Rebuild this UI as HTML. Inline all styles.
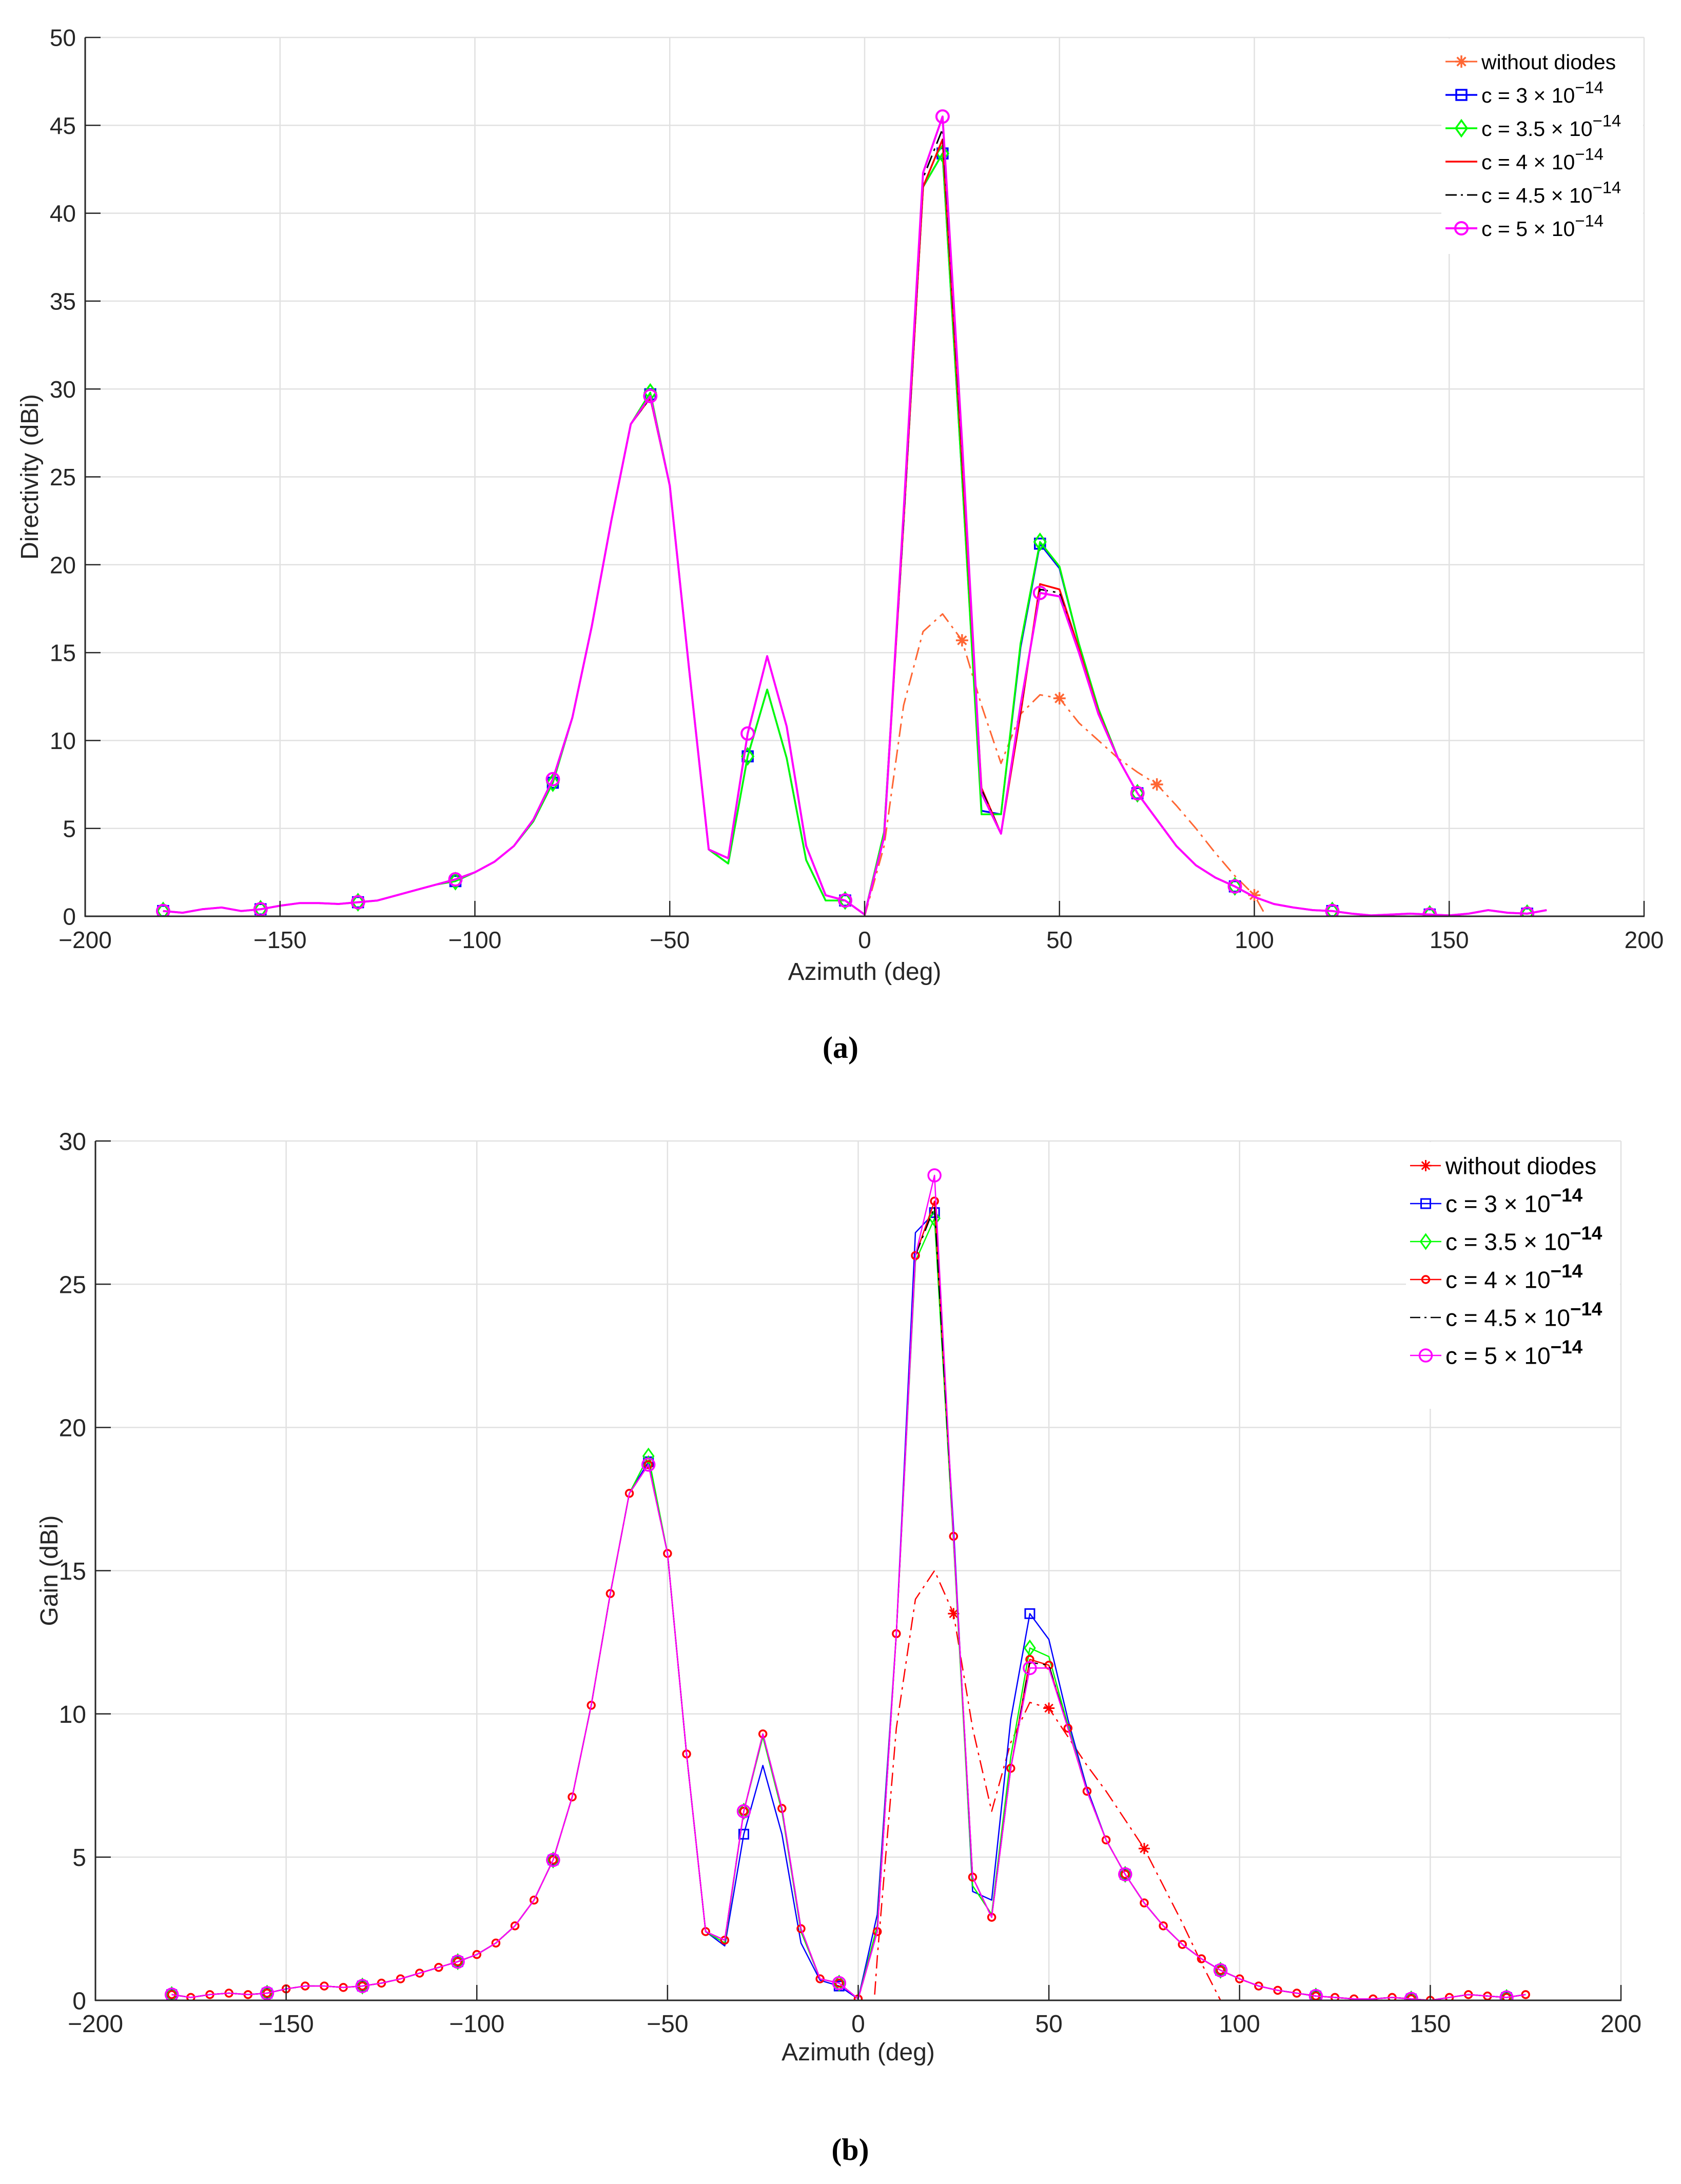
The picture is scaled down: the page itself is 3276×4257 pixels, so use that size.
<!DOCTYPE html>
<html><head><meta charset="utf-8"><style>
html,body{margin:0;padding:0;background:#fff;}
svg{display:block;}
text{font-family:"Liberation Sans",Arial,sans-serif;}
</style></head><body>
<svg id="fig" width="3276" height="4257" viewBox="0 0 3276 4257" xmlns="http://www.w3.org/2000/svg">
<rect x="0" y="0" width="3276" height="4257" fill="#fff"/>
<g id="chartA"></g>
<g id="chartB"></g>
<text x="1638" y="2062" text-anchor="middle" font-size="60" font-weight="bold" style="font-family:'Liberation Serif',serif">(a)</text>
<text x="1657" y="4210" text-anchor="middle" font-size="60" font-weight="bold" style="font-family:'Liberation Serif',serif">(b)</text>
</svg>
<script>
const angles=[-180,-175,-170,-165,-160,-155,-150,-145,-140,-135,-130,-125,-120,-115,-110,-105,-100,-95,-90,-85,-80,-75,-70,-65,-60,-55,-50,-45,-40,-35,-30,-25,-20,-15,-10,-5,0,5,10,15,20,25,30,35,40,45,50,55,60,65,70,75,80,85,90,95,100,105,110,115,120,125,130,135,140,145,150,155,160,165,170,175];
const xTicks=[-200,-150,-100,-50,0,50,100,150,200];
const xTickLabels=["\u2212200","\u2212150","\u2212100","\u221250","0","50","100","150","200"];
const dirTicks=[0,5,10,15,20,25,30,35,40,45,50];
const gainTicks=[0,5,10,15,20,25,30];
const legendLabels=["without diodes","c = 3 \u00d7 10","c = 3.5 \u00d7 10","c = 4 \u00d7 10","c = 4.5 \u00d7 10","c = 5 \u00d7 10"];

const dirC5=[0.3,0.2,0.4,0.5,0.3,0.4,0.6,0.75,0.75,0.7,0.8,
0.9,1.2,1.5,1.8,2.1,2.5,3.1,4.0,5.5,7.8,
11.3,16.5,22.5,28.0,29.6,24.5,14.0,3.8,3.3,10.4,
14.8,10.8,4.0,1.2,0.9,0.1,4.5,23.0,42.3,45.5,
27.0,7.0,4.7,12.0,18.4,18.2,15.0,11.5,9.0,7.0,
5.5,4.0,2.9,2.2,1.7,1.1,0.7,0.5,0.35,0.3,
0.15,0.05,0.1,0.15,0.1,0.05,0.15,0.35,0.2,0.15,0.35];
const dirC45=[0.3,0.2,0.4,0.5,0.3,0.4,0.6,0.75,0.75,0.7,0.8,
0.9,1.2,1.5,1.8,2.1,2.5,3.1,4.0,5.5,7.8,
11.3,16.5,22.5,28.0,29.5,24.5,14.0,3.8,3.3,10.4,
14.8,10.8,4.0,1.2,0.9,0.1,4.5,22.5,42.0,44.8,
26.5,7.2,4.7,11.8,18.6,18.4,15.0,11.5,9.0,7.0,
5.5,4.0,2.9,2.2,1.7,1.1,0.7,0.5,0.35,0.3,
0.15,0.05,0.1,0.15,0.1,0.05,0.15,0.35,0.2,0.15,0.35];
const dirC4=[0.3,0.2,0.4,0.5,0.3,0.4,0.6,0.75,0.75,0.7,0.8,
0.9,1.2,1.5,1.8,2.1,2.5,3.1,4.0,5.5,7.8,
11.3,16.5,22.5,28.0,29.5,24.5,14.0,3.8,3.3,10.4,
14.8,10.8,4.0,1.2,0.9,0.1,4.5,22.5,41.5,44.2,
26.0,7.3,4.7,11.5,18.9,18.6,15.2,11.6,9.0,7.0,
5.5,4.0,2.9,2.2,1.7,1.1,0.7,0.5,0.35,0.3,
0.15,0.05,0.1,0.15,0.1,0.05,0.15,0.35,0.2,0.15,0.35];
const dirC35=[0.3,0.2,0.4,0.5,0.3,0.4,0.6,0.75,0.75,0.7,0.8,
0.9,1.2,1.5,1.8,2.0,2.5,3.1,4.0,5.4,7.6,
11.3,16.5,22.5,28.0,29.8,24.5,14.0,3.8,3.0,9.1,
12.9,9.0,3.2,0.9,0.9,0.1,4.8,22.5,41.5,43.4,
25.0,5.8,5.8,15.5,21.3,19.9,15.5,11.8,9.0,7.0,
5.5,4.0,2.9,2.2,1.7,1.1,0.7,0.5,0.35,0.3,
0.15,0.05,0.1,0.15,0.1,0.05,0.15,0.35,0.2,0.15,0.35];
const dirC3=[0.3,0.2,0.4,0.5,0.3,0.4,0.6,0.75,0.75,0.7,0.8,
0.9,1.2,1.5,1.8,2.0,2.5,3.1,4.0,5.4,7.6,
11.3,16.5,22.5,28.0,29.7,24.5,14.0,3.8,3.0,9.1,
12.9,9.0,3.2,0.9,0.9,0.1,4.8,22.5,41.5,43.4,
25.0,6.0,5.8,15.3,21.2,19.8,15.5,11.8,9.0,7.0,
5.5,4.0,2.9,2.2,1.7,1.1,0.7,0.5,0.35,0.3,
0.15,0.05,0.1,0.15,0.1,0.05,0.15,0.35,0.2,0.15,0.35];
const noAnglesA=[0,5,10,15,20,25,30,35,40,45,50,55,60,65,70,75,80,85,90,95,100,105];
const dirNo=[0,4,12,16.2,17.2,15.7,12,8.7,11.5,12.6,12.4,11,10,9,8.2,7.5,6.3,5,3.6,2.3,1.2,-0.8];

const gainC5=[0.2,0.1,0.2,0.25,0.2,0.25,0.4,0.5,0.5,0.45,0.5,
0.6,0.75,0.95,1.15,1.35,1.6,2.0,2.6,3.5,4.9,
7.1,10.3,14.2,17.7,18.7,15.6,8.6,2.4,2.1,6.6,
9.3,6.7,2.5,0.75,0.6,0.05,2.4,12.8,26.0,28.8,
16.2,4.3,2.9,8.1,11.6,11.6,9.5,7.3,5.6,4.4,
3.4,2.6,1.95,1.45,1.05,0.75,0.5,0.35,0.25,0.15,
0.1,0.05,0.05,0.1,0.05,0.0,0.1,0.2,0.15,0.1,0.2];
const gainC45=[0.2,0.1,0.2,0.25,0.2,0.25,0.4,0.5,0.5,0.45,0.5,
0.6,0.75,0.95,1.15,1.35,1.6,2.0,2.6,3.5,4.9,
7.1,10.3,14.2,17.7,18.7,15.6,8.6,2.4,2.1,6.6,
9.3,6.7,2.5,0.75,0.6,0.05,2.4,12.8,26.0,27.7,
16.2,4.3,2.9,8.1,11.8,11.7,9.5,7.3,5.6,4.4,
3.4,2.6,1.95,1.45,1.05,0.75,0.5,0.35,0.25,0.15,
0.1,0.05,0.05,0.1,0.05,0.0,0.1,0.2,0.15,0.1,0.2];
const gainC4=[0.2,0.1,0.2,0.25,0.2,0.25,0.4,0.5,0.5,0.45,0.5,
0.6,0.75,0.95,1.15,1.35,1.6,2.0,2.6,3.5,4.9,
7.1,10.3,14.2,17.7,18.7,15.6,8.6,2.4,2.1,6.6,
9.3,6.7,2.5,0.75,0.6,0.05,2.4,12.8,26.0,27.9,
16.2,4.3,2.9,8.1,11.9,11.7,9.5,7.3,5.6,4.4,
3.4,2.6,1.95,1.45,1.05,0.75,0.5,0.35,0.25,0.15,
0.1,0.05,0.05,0.1,0.05,0.0,0.1,0.2,0.15,0.1,0.2];
const gainC35=[0.2,0.1,0.2,0.25,0.2,0.25,0.4,0.5,0.5,0.45,0.5,
0.6,0.75,0.95,1.15,1.35,1.6,2.0,2.6,3.5,4.9,
7.1,10.3,14.2,17.7,19.0,15.6,8.6,2.4,2.0,6.6,
9.2,6.6,2.4,0.75,0.6,0.05,2.6,12.8,25.8,27.3,
16.0,4.0,3.0,8.5,12.3,12.0,9.6,7.3,5.6,4.4,
3.4,2.6,1.95,1.45,1.05,0.75,0.5,0.35,0.25,0.15,
0.1,0.05,0.05,0.1,0.05,0.0,0.1,0.2,0.15,0.1,0.2];
const gainC3=[0.2,0.1,0.2,0.25,0.2,0.25,0.4,0.5,0.5,0.45,0.5,
0.6,0.75,0.95,1.15,1.35,1.6,2.0,2.6,3.5,4.9,
7.1,10.3,14.2,17.7,18.8,15.6,8.6,2.4,1.9,5.8,
8.2,5.8,2.0,0.7,0.5,0.05,3.0,12.8,26.8,27.5,
16.5,3.8,3.5,9.8,13.5,12.6,9.8,7.4,5.6,4.4,
3.4,2.6,1.95,1.45,1.05,0.75,0.5,0.35,0.25,0.15,
0.1,0.05,0.05,0.1,0.05,0.0,0.1,0.2,0.15,0.1,0.2];
const noAnglesB=[0,5,10,15,20,25,30,35,40,45,50,55,60,65,70,75,80,85,90,95,100];
const gainNo=[-8,1.5,9.5,14,15,13.5,9.5,6.6,9,10.4,10.2,9.2,8.2,7.3,6.3,5.3,4.0,2.7,1.3,0,-1.5];

const NS="http://www.w3.org/2000/svg";
function mk(parent,tag,attrs){const e=document.createElementNS(NS,tag);for(const k in attrs)e.setAttribute(k,attrs[k]);parent.appendChild(e);return e;}

function marker(g,type,x,y,color,size,sw){
  let e;
  if(type==='square'){e=mk(g,'rect',{x:x-size,y:y-size,width:2*size,height:2*size,fill:'none',stroke:color,'stroke-width':sw});}
  else if(type==='diamond'){e=mk(g,'polygon',{points:`${x},${y-size*1.4} ${x+size},${y} ${x},${y+size*1.4} ${x-size},${y}`,fill:'none',stroke:color,'stroke-width':sw});}
  else if(type==='circle'){e=mk(g,'circle',{cx:x,cy:y,r:size,fill:'none',stroke:color,'stroke-width':sw});}
  else if(type==='star'){e=mk(g,'path',{d:`M${x-size},${y}H${x+size}M${x},${y-size}V${y+size}M${x-size*0.7},${y-size*0.7}L${x+size*0.7},${y+size*0.7}M${x-size*0.7},${y+size*0.7}L${x+size*0.7},${y-size*0.7}`,stroke:color,'stroke-width':sw,fill:'none'});}
  
  
  return e;
}

function drawChart(root,cfg){
  const L=cfg.left,R=cfg.right,T=cfg.top,B=cfg.bottom;
  const xs=v=>L+(v+200)/400*(R-L);
  const ys=v=>B-(v-cfg.ymin)/(cfg.ymax-cfg.ymin)*(B-T);
  const grid=mk(root,'g',{});
  
  
  xTicks.forEach(t=>{mk(grid,'line',{x1:xs(t),x2:xs(t),y1:T,y2:B,stroke:'#e1e1e1','stroke-width':2.5});});
  cfg.yTicks.forEach(t=>{mk(grid,'line',{x1:L,x2:R,y1:ys(t),y2:ys(t),stroke:'#e1e1e1','stroke-width':2.5});});
  const clipId='clip'+cfg.id;
  const defs=mk(root,'defs',{});
  const cp=mk(defs,'clipPath',{id:clipId});
  mk(cp,'rect',{x:L,y:T-20,width:R-L,height:B-T+20});
  const plot=mk(root,'g',{'clip-path':`url(#${clipId})`});
  
  
  cfg.series.forEach(s=>{
    const sg=mk(plot,'g',{});
    
    
    const pts=s.x.map((a,i)=>`${xs(a).toFixed(1)},${ys(s.y[i]).toFixed(1)}`).join(' ');
    const pl=mk(sg,'polyline',{points:pts,fill:'none',stroke:s.color,'stroke-width':s.lw,'stroke-linejoin':'round'});
    if(s.dash)pl.setAttribute('stroke-dasharray',s.dash);
    
    
    if(s.marker){s.x.forEach((a,i)=>{if(s.markAt(a))marker(sg,s.marker,xs(a),ys(s.y[i]),s.color,s.ms,s.msw);});}
  });
  const lg=mk(root,'g',{});
  
  
  const lgd=cfg.legend;
  mk(lg,'rect',{x:lgd.bx,y:T+2,width:R-lgd.bx-2,height:lgd.bh,fill:'#fff'});
  cfg.series.slice().sort((a,b)=>a.order-b.order).forEach((s,i)=>{
    const y=lgd.y0+i*lgd.dy;
    const e=mk(lg,'g',{});
    
    
    const ln=mk(e,'line',{x1:lgd.lx1,x2:lgd.lx2,y1:y,y2:y,stroke:s.color,'stroke-width':s.lw});
    if(s.dash)ln.setAttribute('stroke-dasharray',s.legDash||s.dash);
    if(s.marker&&s.legMarker!==false)marker(e,s.marker,(lgd.lx1+lgd.lx2)/2,y,s.color,s.ms,s.msw);
    const tx=mk(e,'text',{x:lgd.tx,y:y+lgd.fs*0.36,'font-size':lgd.fs,fill:'#000'});
    tx.textContent=legendLabels[s.order];
    if(s.order>0){const sp=mk(tx,'tspan',{dy:-lgd.fs*0.45,'font-size':lgd.fs*0.8,'font-weight':cfg.supBold?'bold':'normal'});sp.textContent='\u221214';}
  });
  const ax=mk(root,'g',{});
  
  
  mk(ax,'line',{x1:L,x2:L,y1:T,y2:B+1,stroke:'#262626','stroke-width':3});
  mk(ax,'line',{x1:L-1,x2:R+1,y1:B,y2:B,stroke:'#262626','stroke-width':3});
  xTicks.forEach((t,i)=>{
    mk(ax,'line',{x1:xs(t),x2:xs(t),y1:B,y2:B-30,stroke:'#262626','stroke-width':2.5});
    const tx=mk(ax,'text',{x:xs(t),y:cfg.xLabY,'text-anchor':'middle','font-size':cfg.tfs,fill:'#262626'});
    
    
    tx.textContent=xTickLabels[i];
  });
  cfg.yTicks.forEach(t=>{
    mk(ax,'line',{x1:L,x2:L+30,y1:ys(t),y2:ys(t),stroke:'#262626','stroke-width':2.5});
    const tx=mk(ax,'text',{x:L-18,y:ys(t)+cfg.tfs*0.36,'text-anchor':'end','font-size':cfg.tfs,fill:'#262626'});
    
    
    tx.textContent=String(t);
  });
  const xt=mk(ax,'text',{x:(L+R)/2,y:cfg.xTitleY,'text-anchor':'middle','font-size':cfg.afs,fill:'#262626'});
  
  
  xt.textContent='Azimuth (deg)';
  const yt=mk(ax,'text',{x:0,y:0,'text-anchor':'middle','font-size':cfg.afs,fill:'#262626',transform:`translate(${cfg.yTitleX},${(T+B)/2}) rotate(-90)`});
  
  
  yt.textContent=cfg.yTitle;
}

const every25=a=>((a+180)%25)===0;
const noMark=a=>a===25||a===50||a===75||a===100;
const all=a=>true;
const dd="26 10 5 10";

drawChart(document.getElementById('chartA'),{
  id:'A',left:166,right:3204,top:73,bottom:1786,ymin:0,ymax:50,yTicks:dirTicks,
  tfs:46,afs:48,xLabY:1848,xTitleY:1910,yTitleX:74,yTitle:'Directivity (dBi)',supBold:false,
  legend:{bx:2809,bh:420,lx1:2817,lx2:2879,tx:2887,y0:120,dy:65,fs:41},
  series:[
    {name:'without-diodes-series',order:0,x:noAnglesA,y:dirNo,color:'#ff6633',lw:3,dash:dd,legDash:"22 8 4 8",marker:'star',ms:12,msw:3.5,markAt:noMark},
    {name:'c3-series',order:1,x:angles,y:dirC3,color:'#0000ff',lw:3.5,marker:'square',ms:10,msw:3.5,markAt:every25},
    {name:'c3p5-series',order:2,x:angles,y:dirC35,color:'#00ff00',lw:3.5,marker:'diamond',ms:11,msw:3.5,markAt:every25},
    {name:'c4-series',order:3,x:angles,y:dirC4,color:'#ff0000',lw:3.5,markAt:all},
    {name:'c4p5-series',order:4,x:angles,y:dirC45,color:'#000000',lw:3,dash:dd,legDash:"22 8 4 8",markAt:all},
    {name:'c5-series',order:5,x:angles,y:dirC5,color:'#ff00ff',lw:4,marker:'circle',ms:12,msw:4,markAt:every25}
  ]
});

drawChart(document.getElementById('chartB'),{
  id:'B',left:186,right:3159,top:2224,bottom:3899,ymin:0,ymax:30,yTicks:gainTicks,
  tfs:48,afs:48,xLabY:3961,xTitleY:4016,yTitleX:112,yTitle:'Gain (dBi)',supBold:true,
  legend:{bx:2740,bh:520,lx1:2748,lx2:2809,tx:2817,y0:2272,dy:74,fs:46},
  series:[
    {name:'without-diodes-series',order:0,x:noAnglesB,y:gainNo,color:'#ff0000',lw:2.5,dash:dd,legDash:"20 8 4 8",marker:'star',ms:11,msw:3,markAt:noMark},
    {name:'c3-series',order:1,x:angles,y:gainC3,color:'#0000ff',lw:2.5,marker:'square',ms:9,msw:3,markAt:every25},
    {name:'c3p5-series',order:2,x:angles,y:gainC35,color:'#00ff00',lw:2.5,marker:'diamond',ms:10,msw:3,markAt:every25},
    {name:'c4-series',order:3,x:angles,y:gainC4,color:'#ff0000',lw:2.5,marker:'circle',ms:7,msw:3.5,markAt:all},
    {name:'c4p5-series',order:4,x:angles,y:gainC45,color:'#000000',lw:2.5,dash:dd,legDash:"20 8 4 8",markAt:all},
    {name:'c5-series',order:5,x:angles,y:gainC5,color:'#ff00ff',lw:2.5,marker:'circle',ms:12,msw:3.5,markAt:every25}
  ]
});
</script>
</body></html>
